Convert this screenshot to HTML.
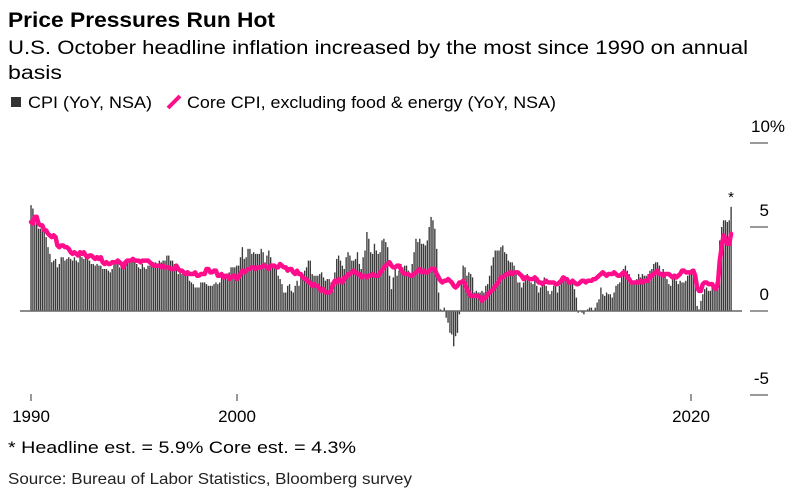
<!DOCTYPE html>
<html><head><meta charset="utf-8"><style>
body{margin:0;background:#fff;font-family:"Liberation Sans",sans-serif;}
svg text{font-family:"Liberation Sans",sans-serif;}
</style></head><body>
<svg width="795" height="497" viewBox="0 0 795 497">
<text x="8" y="27" font-size="21" font-weight="bold" fill="#000" textLength="267" lengthAdjust="spacingAndGlyphs">Price Pressures Run Hot</text>
<text x="8" y="54" font-size="19" fill="#000" textLength="740" lengthAdjust="spacingAndGlyphs">U.S. October headline inflation increased by the most since 1990 on annual</text>
<text x="8" y="79" font-size="19" fill="#000" textLength="54" lengthAdjust="spacingAndGlyphs">basis</text>
<g>
<rect x="11" y="97" width="10" height="10" fill="#333"/>
<text x="28" y="108" font-size="17" textLength="124" lengthAdjust="spacingAndGlyphs">CPI (YoY, NSA)</text>
<line x1="168" y1="108" x2="180" y2="96" stroke="#ff0d8a" stroke-width="4"/>
<text x="187" y="108" font-size="17" textLength="369" lengthAdjust="spacingAndGlyphs">Core CPI, excluding food &amp; energy (YoY, NSA)</text>
</g>
<g id="yaxis"></g>
<g id="bars"></g>
<line x1="20" y1="311" x2="742" y2="311" stroke="#666" stroke-width="1.5"/>
<path id="core" fill="none" stroke="#ff0d8a" stroke-width="4.5" stroke-linejoin="round" stroke-linecap="round"/>
<text id="star" font-size="15" text-anchor="middle">*</text>
<g id="xaxis"></g>
<text x="8" y="453" font-size="17" textLength="348" lengthAdjust="spacingAndGlyphs">* Headline est. = 5.9% Core est. = 4.3%</text>
<text x="8" y="484" font-size="16" fill="#222" textLength="404" lengthAdjust="spacingAndGlyphs">Source: Bureau of Labor Statistics, Bloomberg survey</text>
</svg>
<script>
// monthly data Nov 1990 .. Oct 2021
const cpiYoY = [].concat(
[6.3,6.1],
[5.7,5.3,4.9,4.9,5.0,4.7,4.4,3.8,3.4,2.9,3.0,3.1],
[2.6,2.8,3.2,3.2,3.0,3.1,3.2,3.1,3.0,3.2,3.0,2.9],
[3.3,3.2,3.1,3.2,3.2,3.0,2.8,2.8,2.7,2.8,2.7,2.7],
[2.5,2.5,2.5,2.4,2.3,2.5,2.8,2.9,3.0,2.6,2.7,2.7],
[2.8,2.9,2.9,3.1,3.2,3.0,2.8,2.6,2.5,2.8,2.6,2.5],
[2.7,2.7,2.8,2.9,2.9,2.8,3.0,2.9,3.0,3.0,3.3,3.3],
[3.0,3.0,2.8,2.5,2.2,2.3,2.2,2.2,2.2,2.1,1.8,1.7],
[1.6,1.4,1.4,1.4,1.7,1.7,1.7,1.6,1.5,1.5,1.5,1.6],
[1.7,1.6,1.7,2.3,2.1,2.0,2.1,2.3,2.6,2.6,2.6,2.7],
[2.7,3.2,3.8,3.1,3.2,3.7,3.7,3.4,3.5,3.4,3.4,3.4],
[3.7,3.5,2.9,3.3,3.6,3.2,2.7,2.7,2.6,2.1,1.9,1.6],
[1.1,1.1,1.5,1.6,1.2,1.1,1.5,1.8,1.5,2.0,2.2,2.4],
[2.6,3.0,3.0,2.2,2.1,2.1,2.1,2.2,2.3,2.0,1.8,1.9],
[1.9,1.7,1.7,2.3,3.1,3.3,3.0,2.7,2.5,3.2,3.5,3.3],
[3.0,3.0,3.1,3.5,2.8,2.5,3.2,3.6,4.7,4.3,3.5,3.4],
[4.0,3.6,3.4,3.5,4.2,4.3,4.1,3.8,2.1,1.3,2.0,2.5],
[2.1,2.4,2.8,2.6,2.7,2.7,2.4,2.0,2.8,3.5,4.3,4.1],
[4.3,4.0,4.0,3.9,4.2,5.0,5.6,5.4,4.9,3.7,1.1,0.1],
[0.0,0.2,-0.4,-0.7,-1.3,-1.4,-2.1,-1.5,-1.3,-0.2,1.8,2.7],
[2.6,2.1,2.3,2.2,2.0,1.1,1.2,1.1,1.1,1.2,1.1,1.5],
[1.6,2.1,2.7,3.2,3.6,3.6,3.6,3.8,3.9,3.5,3.4,3.0],
[2.9,2.9,2.7,2.3,1.7,1.7,1.4,1.7,2.0,2.2,1.8,1.7],
[1.6,2.0,1.5,1.1,1.4,1.8,2.0,1.5,1.2,1.0,1.2,1.5],
[1.6,1.1,1.5,2.0,2.1,2.1,2.0,1.7,1.7,1.7,1.3,0.8],
[-0.1,0.0,-0.1,-0.2,0.0,0.1,0.2,0.2,0.0,0.2,0.5,0.7],
[1.4,1.0,0.9,1.1,1.0,1.0,0.8,1.1,1.5,1.6,1.7,2.1],
[2.5,2.7,2.4,2.2,1.9,1.6,1.7,1.9,2.2,2.0,2.2,2.1],
[2.1,2.2,2.4,2.5,2.8,2.9,2.9,2.7,2.3,2.5,2.2,1.9],
[1.6,1.5,1.9,2.0,1.8,1.6,1.8,1.7,1.7,1.8,2.1,2.3],
[2.5,2.3,1.5,0.3,0.1,0.6,1.0,1.3,1.4,1.2,1.2,1.4],
[1.4,1.7,2.6,4.2,5.0,5.4,5.4,5.3,5.4,6.2]
);
const coreYoY = [].concat(
[5.3,5.2],
[5.6,5.6,5.2,5.1,5.1,4.8,4.8,4.6,4.5,4.4,4.5,4.4],
[3.9,3.8,3.9,3.9,3.8,3.8,3.7,3.5,3.4,3.5,3.4,3.3],
[3.5,3.4,3.5,3.3,3.2,3.3,3.3,3.2,3.1,3.2,3.1,3.2],
[2.9,2.8,2.9,2.8,2.8,2.9,2.9,2.9,3.0,2.9,2.8,2.6],
[2.9,3.0,3.0,3.0,3.1,3.0,3.0,3.0,2.9,3.0,3.0,3.0],
[3.0,2.9,2.8,2.7,2.7,2.7,2.7,2.6,2.7,2.6,2.6,2.6],
[2.5,2.5,2.5,2.7,2.5,2.4,2.4,2.3,2.2,2.3,2.2,2.2],
[2.2,2.3,2.1,2.1,2.2,2.2,2.2,2.5,2.5,2.3,2.3,2.4],
[2.4,2.1,2.1,2.2,2.0,2.1,2.1,1.9,2.0,2.1,2.1,1.9],
[2.0,2.2,2.4,2.3,2.4,2.5,2.5,2.6,2.6,2.5,2.6,2.6],
[2.6,2.7,2.7,2.6,2.5,2.7,2.7,2.7,2.6,2.6,2.8,2.7],
[2.6,2.6,2.4,2.5,2.5,2.3,2.2,2.4,2.2,2.2,2.0,1.9],
[1.9,1.7,1.7,1.5,1.6,1.5,1.5,1.3,1.2,1.3,1.1,1.1],
[1.1,1.2,1.6,1.8,1.7,1.9,1.8,1.7,2.0,2.0,2.2,2.2],
[2.3,2.4,2.3,2.2,2.2,2.0,2.1,2.1,2.0,2.1,2.1,2.2],
[2.1,2.1,2.1,2.3,2.4,2.6,2.7,2.8,2.9,2.7,2.6,2.6],
[2.7,2.7,2.5,2.3,2.2,2.2,2.2,2.1,2.1,2.2,2.3,2.4],
[2.5,2.3,2.4,2.3,2.3,2.4,2.5,2.5,2.5,2.2,2.0,1.8],
[1.7,1.8,1.8,1.9,1.8,1.7,1.5,1.4,1.5,1.7,1.7,1.8],
[1.6,1.3,1.1,0.9,0.9,0.9,0.9,0.9,0.8,0.6,0.8,0.8],
[1.0,1.1,1.2,1.3,1.5,1.6,1.8,2.0,2.0,2.1,2.2,2.2],
[2.3,2.2,2.3,2.3,2.3,2.2,2.1,1.9,2.0,2.0,1.9,1.9],
[1.9,2.0,1.9,1.7,1.7,1.6,1.7,1.8,1.7,1.7,1.7,1.7],
[1.6,1.6,1.7,1.8,2.0,1.9,1.9,1.7,1.7,1.8,1.7,1.6],
[1.6,1.7,1.8,1.8,1.7,1.8,1.8,1.8,1.9,1.9,2.0,2.1],
[2.2,2.3,2.2,2.1,2.2,2.2,2.2,2.3,2.2,2.1,2.1,2.2],
[2.3,2.2,2.0,1.9,1.7,1.7,1.7,1.7,1.7,1.8,1.7,1.8],
[1.8,1.8,2.1,2.1,2.2,2.3,2.4,2.2,2.2,2.1,2.2,2.2],
[2.2,2.1,2.0,2.1,2.0,2.1,2.2,2.4,2.4,2.3,2.3,2.3],
[2.3,2.4,2.1,1.4,1.2,1.2,1.6,1.7,1.7,1.6,1.6,1.6],
[1.4,1.3,1.6,3.0,3.8,4.5,4.3,4.0,4.0,4.6]
);
const yTicks = [10,5,0,-5];
const xTickYears = [1990,2000,2020];

const NS = "http://www.w3.org/2000/svg";
function y(v){ return 311 - v*16.8; }
function xMonth(i){ return 31 + i*1.887; }

const bars = document.getElementById('bars');
cpiYoY.forEach((v,i)=>{
  const r = document.createElementNS(NS,'rect');
  
  
  const x = xMonth(i)-0.65;
  r.setAttribute('x',x); r.setAttribute('width',1.35);
  r.setAttribute('y',Math.min(y(v),311)); r.setAttribute('height',Math.abs(y(v)-311));
  r.setAttribute('fill','#3a3a3a');
  bars.appendChild(r);
});
document.getElementById('core').setAttribute('d',
  coreYoY.map((v,i)=>(i?'L':'M')+xMonth(i).toFixed(2)+','+y(v).toFixed(2)).join(''));
const last = cpiYoY.length-1;
const st = document.getElementById('star');
st.setAttribute('x', xMonth(last)); st.setAttribute('y', y(cpiYoY[last])-5);

const ya = document.getElementById('yaxis');
yTicks.forEach(t=>{
  const l = document.createElementNS(NS,'line');
  
  
  l.setAttribute('x1',750); l.setAttribute('x2',768);
  l.setAttribute('y1',y(t)); l.setAttribute('y2',y(t));
  l.setAttribute('stroke','#333'); l.setAttribute('stroke-width',1);
  ya.appendChild(l);
  const tx = document.createElementNS(NS,'text');
  
  
  tx.setAttribute('x', t===10 ? 751 : 769);
  tx.setAttribute('text-anchor', t===10 ? 'start' : 'end');
  tx.setAttribute('y', y(t)-11);
  tx.setAttribute('font-size',17);
  tx.textContent = t===10 ? '10%' : String(t);
  ya.appendChild(tx);
});
const xa = document.getElementById('xaxis');
const xTickPos = {1990:31, 2000:237, 2020:691};
xTickYears.forEach(yr=>{
  const px = xTickPos[yr];
  const l = document.createElementNS(NS,'line');
  
  
  l.setAttribute('x1',px); l.setAttribute('x2',px);
  l.setAttribute('y1',394); l.setAttribute('y2',401);
  l.setAttribute('stroke','#333');
  xa.appendChild(l);
  const tx = document.createElementNS(NS,'text');
  
  
  tx.setAttribute('x',px); tx.setAttribute('y',422);
  tx.setAttribute('text-anchor','middle'); tx.setAttribute('font-size',17);
  tx.textContent = yr;
  xa.appendChild(tx);
});
</script>
</body></html>
